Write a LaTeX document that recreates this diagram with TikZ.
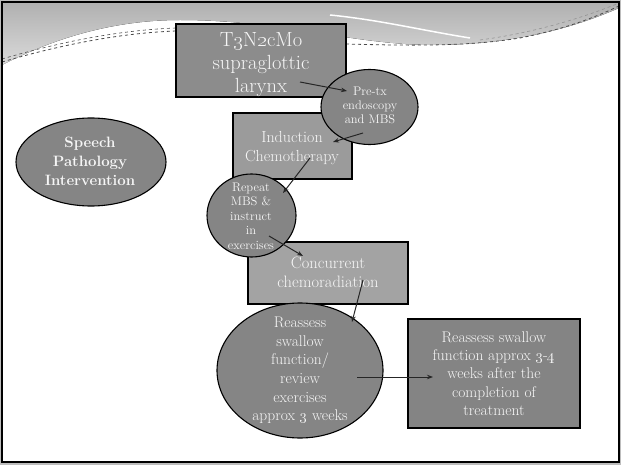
\documentclass[tikz,border=0pt]{standalone}
\usepackage{fix-cm}
\usetikzlibrary{shapes.geometric,arrows.meta,calc}
\newcommand{\osn}[1]{\oldstylenums{#1}}
\definecolor{framegray}{HTML}{BDBDBD}
\definecolor{topdark}{HTML}{B0B0B0}
\definecolor{toplight}{HTML}{DADADA}
\definecolor{dashgray}{HTML}{4A4A4A}
\definecolor{tgray}{HTML}{8C8C8C}
\definecolor{igray}{HTML}{9B9B9B}
\definecolor{cgray}{HTML}{A3A3A3}
\definecolor{egray}{HTML}{858585}
\definecolor{rgray}{HTML}{848484}
\definecolor{txtwhite}{HTML}{F6F6F6}
\begin{document}
\begin{tikzpicture}[x=1pt,y=-1pt,
  shapebox/.style={draw=black,line width=1.3pt,inner sep=0pt},
  ellbox/.style={ellipse,draw=black,line width=1.1pt,inner sep=0pt,fill=egray},
  txt/.style={text=txtwhite,align=center,inner sep=0pt},
  arr/.style={-{Stealth[length=6pt,width=4.5pt]},line width=1pt,draw=black!85}]
\useasboundingbox (0,0) rectangle (621,465);
% background
\fill[framegray] (0,0) rectangle (621,465);
\fill[white] (2,2) rectangle (619,462);
\fill[top color=topdark,bottom color=toplight]
  (2,65) .. controls (60,35) and (120,20) .. (180,20)
  .. controls (280,20) and (350,44) .. (430,45)
  .. controls (520,45) and (580,25) .. (619,8) -- (619,2) -- (2,2) -- cycle;
\draw[white,line width=1.5pt] (330,15) .. controls (380,20) and (420,30) .. (470,38);
\draw[dashgray,dashed,line width=0.8pt] (2,62) .. controls (60,45) and (120,33) .. (176,31);
\draw[dashgray,dashed,line width=0.6pt] (2,59) .. controls (60,42) and (120,30) .. (176,28);
\draw[dashgray,dashed,line width=0.8pt] (346,44) .. controls (420,46) and (470,46) .. (520,38)
  .. controls (570,28) and (600,15) .. (619,6);
\draw[dashgray!60,dashed,line width=0.6pt] (480,40) .. controls (540,32) and (590,15) .. (619,3);
\draw[black,line width=2pt] (2,2) rectangle (619,462);
% shapes
\node[shapebox,fill=tgray,minimum width=170pt,minimum height=73pt] (t3) at (261,60.5) {};
\node[txt,font=\fontsize{20.5}{23}\selectfont] (t3t) at (261,64.5) {T\osn{3}N\osn{2}cMo\\supraglottic\\larynx};
\node[shapebox,fill=igray,minimum width=119pt,minimum height=66pt] (ind) at (292.5,146) {};
\node[txt,font=\fontsize{16}{18.5}\selectfont] (indt) at (292,148) {Induction\\Chemotherapy};
\node[ellbox,minimum width=97pt,minimum height=75pt] (pre) at (369.5,107) {};
\node[txt,font=\fontsize{12.5}{14}\selectfont] (pret) at (370,105) {Pre-tx\\endoscopy\\and MBS};
\node[ellbox,minimum width=150pt,minimum height=88pt] (sp) at (91,162) {};
\node[txt,font=\fontsize{15}{19}\selectfont\bfseries] (spt) at (90,161) {Speech\\Pathology\\Intervention};
\node[shapebox,fill=cgray,minimum width=160pt,minimum height=62pt] (conc) at (328,273) {};
\node[txt,font=\fontsize{16.5}{19}\selectfont] (conct) at (328,272.5) {Concurrent\\chemoradiation};
\node[ellbox,minimum width=89pt,minimum height=83pt] (rep) at (251.5,215.5) {};
\node[txt,font=\fontsize{12.5}{14.5}\selectfont] (rept) at (251,216) {Repeat\\MBS \&\\instruct\\in\\exercises};
\node[ellbox,minimum width=166pt,minimum height=135pt] (reas) at (300,370.5) {};
\node[txt,font=\fontsize{15.5}{18.6}\selectfont] (reast) at (300,370.5) {Reassess\\swallow\\function/\\review\\exercises\\approx \osn{3} weeks};
\node[shapebox,fill=rgray,minimum width=172pt,minimum height=109pt] (fin) at (494,373.5) {};
\node[txt,font=\fontsize{15.5}{18.3}\selectfont] (fint) at (494,373.5) {Reassess swallow\\function approx \osn{3}-\osn{4}\\weeks after the\\completion of\\treatment};
% connectors
\draw[arr] ($(t3.center)+(39,21.5)$) -- ($(pre.center)+(-22.5,-16)$);
\draw[arr] ($(pre.center)+(-6.5,26)$) -- ($(ind.center)+(40.5,-4)$);
\draw[arr] ($(ind.center)+(17.5,12)$) -- ($(rep.center)+(31.5,-22.5)$);
\draw[arr] ($(rep.center)+(17.5,20.5)$) -- ($(conc.center)+(-25,-17)$);
\draw[arr] ($(conc.center)+(35,7)$) -- ($(reas.center)+(52,-48.5)$);
\draw[arr] ($(reas.center)+(57,6.5)$) -- ($(fin.center)+(-61,3.5)$);
\end{tikzpicture}
\end{document}
